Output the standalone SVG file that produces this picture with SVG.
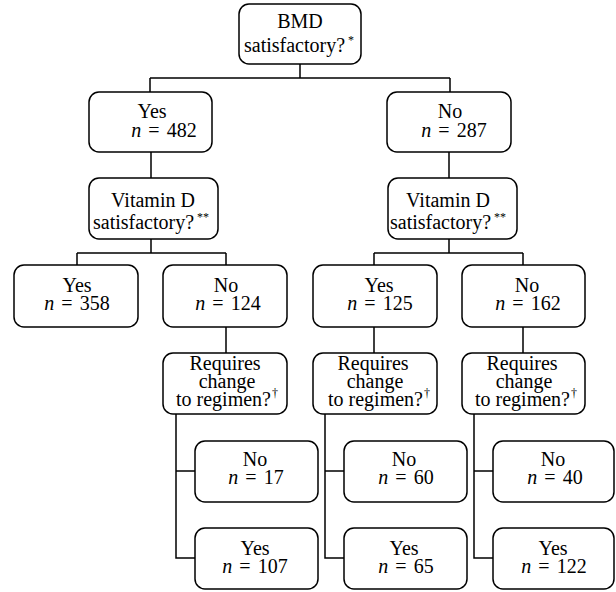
<svg xmlns="http://www.w3.org/2000/svg" width="616" height="592" viewBox="0 0 616 592">
<style>
.box{fill:#fff;stroke:#000;stroke-width:1.5}
.con{fill:none;stroke:#000;stroke-width:1.5}
text{font-family:"Liberation Serif","Times New Roman",serif;font-size:20px;fill:#000}
.m{text-anchor:middle}
.n{word-spacing:2px}
.i{font-style:italic}
.sup{font-size:12px}
</style>
<rect width="616" height="592" fill="#fff"/>
<g id="connectors">
<path class="con" d="M300,64V78M150,78H450M150,78V92M450,78V92"/>
<path class="con" d="M151,152V178M449,152V178"/>
<path class="con" d="M151,239V253M77,253H226M77,253V265M226,253V265"/>
<path class="con" d="M449,239V253M374,253H523M374,253V265M523,253V265"/>
<path class="con" d="M226,327V353M374,327V353M523,327V353"/>
<path class="con" d="M176,414V558H195M176,471H195"/>
<path class="con" d="M325,414V558H344M325,471H344"/>
<path class="con" d="M474,414V558H493M474,471H493"/>
</g>
<g id="bmd">
<rect class="box" x="239" y="4" width="122" height="60" rx="10"/>
<text class="m" x="300" y="28">BMD</text>
<text x="244" y="52">satisfactory?<tspan class="sup" dx="3" dy="-8">*</tspan></text>
</g>
<g id="yes482">
<rect class="box" x="89" y="92" width="123" height="60" rx="10"/>
<text class="m" x="152" y="118">Yes</text>
<text class="m n" x="164" y="137"><tspan class="i">n</tspan> = 482</text>
</g>
<g id="no287">
<rect class="box" x="387" y="92" width="124" height="60" rx="10"/>
<text class="m" x="450" y="118">No</text>
<text class="m n" x="454" y="137"><tspan class="i">n</tspan> = 287</text>
</g>
<g id="vitd-left">
<rect class="box" x="89" y="178" width="129" height="61" rx="10"/>
<text class="m" x="153" y="207">Vitamin D</text>
<text x="93" y="229">satisfactory?<tspan class="sup" dx="3" dy="-8">**</tspan></text>
</g>
<g id="vitd-right">
<rect class="box" x="388" y="178" width="129" height="61" rx="10"/>
<text class="m" x="448" y="207">Vitamin D</text>
<text x="390" y="229">satisfactory?<tspan class="sup" dx="3" dy="-8">**</tspan></text>
</g>
<g id="yes358">
<rect class="box" x="14" y="265" width="124" height="62" rx="10"/>
<text class="m" x="77" y="292">Yes</text>
<text class="m n" x="77" y="310"><tspan class="i">n</tspan> = 358</text>
</g>
<g id="no124">
<rect class="box" x="163" y="265" width="124" height="62" rx="10"/>
<text class="m" x="226" y="292">No</text>
<text class="m n" x="228" y="310"><tspan class="i">n</tspan> = 124</text>
</g>
<g id="yes125">
<rect class="box" x="313" y="265" width="124" height="62" rx="10"/>
<text class="m" x="379" y="292">Yes</text>
<text class="m n" x="380" y="310"><tspan class="i">n</tspan> = 125</text>
</g>
<g id="no162">
<rect class="box" x="462" y="265" width="123" height="62" rx="10"/>
<text class="m" x="527" y="292">No</text>
<text class="m n" x="528" y="310"><tspan class="i">n</tspan> = 162</text>
</g>
<g id="req1">
<rect class="box" x="163" y="353" width="124" height="61" rx="10"/>
<text class="m" x="225" y="370">Requires</text>
<text class="m" x="227" y="388">change</text>
<text class="m" x="227" y="406">to regimen?<tspan class="sup" dx="1" dy="-9">&#8224;</tspan></text>
</g>
<g id="req2">
<rect class="box" x="313" y="353" width="124" height="61" rx="10"/>
<text class="m" x="373" y="370">Requires</text>
<text class="m" x="375" y="388">change</text>
<text class="m" x="379" y="406">to regimen?<tspan class="sup" dx="1" dy="-9">&#8224;</tspan></text>
</g>
<g id="req3">
<rect class="box" x="462" y="353" width="123" height="61" rx="10"/>
<text class="m" x="522" y="370">Requires</text>
<text class="m" x="524" y="388">change</text>
<text class="m" x="526" y="406">to regimen?<tspan class="sup" dx="1" dy="-9">&#8224;</tspan></text>
</g>
<g id="no17">
<rect class="box" x="195" y="441" width="123" height="61" rx="10"/>
<text class="m" x="255" y="466">No</text>
<text class="m n" x="256" y="484"><tspan class="i">n</tspan> = 17</text>
</g>
<g id="yes107">
<rect class="box" x="195" y="528" width="123" height="61" rx="10"/>
<text class="m" x="255" y="555">Yes</text>
<text class="m n" x="255" y="573"><tspan class="i">n</tspan> = 107</text>
</g>
<g id="no60">
<rect class="box" x="344" y="441" width="123" height="61" rx="10"/>
<text class="m" x="404" y="466">No</text>
<text class="m n" x="406" y="484"><tspan class="i">n</tspan> = 60</text>
</g>
<g id="yes65">
<rect class="box" x="344" y="528" width="123" height="61" rx="10"/>
<text class="m" x="404" y="555">Yes</text>
<text class="m n" x="406" y="573"><tspan class="i">n</tspan> = 65</text>
</g>
<g id="no40">
<rect class="box" x="493" y="441" width="121" height="61" rx="10"/>
<text class="m" x="553" y="466">No</text>
<text class="m n" x="555" y="484"><tspan class="i">n</tspan> = 40</text>
</g>
<g id="yes122">
<rect class="box" x="493" y="528" width="121" height="61" rx="10"/>
<text class="m" x="553" y="555">Yes</text>
<text class="m n" x="554" y="573"><tspan class="i">n</tspan> = 122</text>
</g>
</svg>
